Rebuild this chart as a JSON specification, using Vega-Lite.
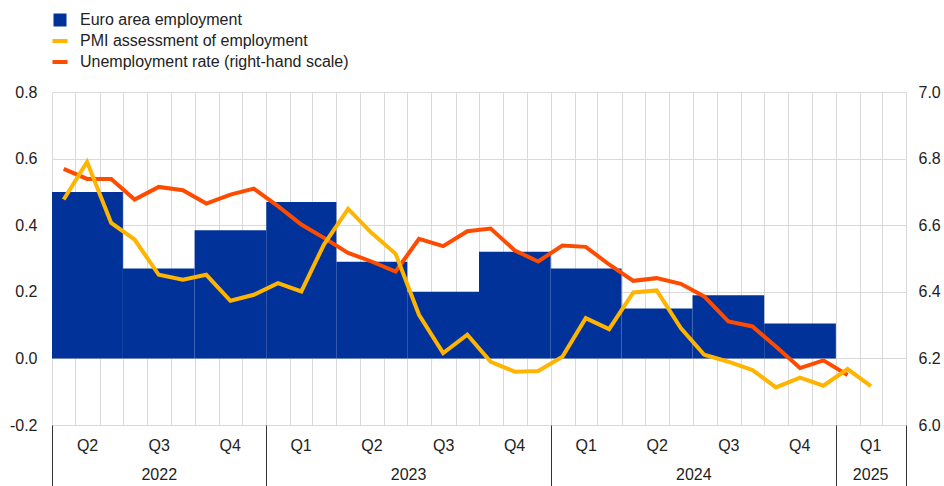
{
  "$schema": "https://vega.github.io/schema/vega-lite/v6.json",
  "width": 854,
  "height": 333,
  "autosize": {"type": "none"},
  "padding": {"left": 52, "top": 92, "right": 38, "bottom": 61},
  "background": "white",
  "config": {
    "view": {"stroke": null},
    "font": "Liberation Sans",
    "axis": {"labelFont": "Liberation Sans", "labelFontSize": 16, "labelColor": "#222222", "titleFontSize": 0},
    "legend": {"labelFont": "Liberation Sans", "labelFontSize": 16, "labelColor": "#222222", "labelLimit": 500}
  },
  "datasets": {
    "bars": [
      {"start": "2022-04-01", "end": "2022-07-01", "value": 0.50},
      {"start": "2022-07-01", "end": "2022-10-01", "value": 0.27},
      {"start": "2022-10-01", "end": "2023-01-01", "value": 0.385},
      {"start": "2023-01-01", "end": "2023-04-01", "value": 0.47},
      {"start": "2023-04-01", "end": "2023-07-01", "value": 0.29},
      {"start": "2023-07-01", "end": "2023-10-01", "value": 0.20},
      {"start": "2023-10-01", "end": "2024-01-01", "value": 0.32},
      {"start": "2024-01-01", "end": "2024-04-01", "value": 0.27},
      {"start": "2024-04-01", "end": "2024-07-01", "value": 0.15},
      {"start": "2024-07-01", "end": "2024-10-01", "value": 0.19},
      {"start": "2024-10-01", "end": "2025-01-01", "value": 0.105}
    ],
    "pmi": [
      {"date": "2022-04-16", "value": 0.477},
      {"date": "2022-05-16", "value": 0.59},
      {"date": "2022-06-16", "value": 0.407},
      {"date": "2022-07-16", "value": 0.357},
      {"date": "2022-08-16", "value": 0.251},
      {"date": "2022-09-16", "value": 0.236},
      {"date": "2022-10-16", "value": 0.251},
      {"date": "2022-11-16", "value": 0.173},
      {"date": "2022-12-16", "value": 0.191},
      {"date": "2023-01-16", "value": 0.226},
      {"date": "2023-02-15", "value": 0.201},
      {"date": "2023-03-16", "value": 0.342},
      {"date": "2023-04-16", "value": 0.449},
      {"date": "2023-05-16", "value": 0.377},
      {"date": "2023-06-16", "value": 0.314},
      {"date": "2023-07-16", "value": 0.131},
      {"date": "2023-08-16", "value": 0.016},
      {"date": "2023-09-16", "value": 0.071},
      {"date": "2023-10-16", "value": -0.010},
      {"date": "2023-11-16", "value": -0.040},
      {"date": "2023-12-16", "value": -0.038},
      {"date": "2024-01-16", "value": 0.005},
      {"date": "2024-02-15", "value": 0.121},
      {"date": "2024-03-16", "value": 0.088},
      {"date": "2024-04-16", "value": 0.198},
      {"date": "2024-05-16", "value": 0.204},
      {"date": "2024-06-16", "value": 0.091},
      {"date": "2024-07-16", "value": 0.011},
      {"date": "2024-08-16", "value": -0.010},
      {"date": "2024-09-16", "value": -0.035},
      {"date": "2024-10-16", "value": -0.087},
      {"date": "2024-11-16", "value": -0.058},
      {"date": "2024-12-16", "value": -0.082},
      {"date": "2025-01-16", "value": -0.032},
      {"date": "2025-02-15", "value": -0.083}
    ],
    "unemp": [
      {"date": "2022-04-16", "value": 6.769},
      {"date": "2022-05-16", "value": 6.739},
      {"date": "2022-06-16", "value": 6.739},
      {"date": "2022-07-16", "value": 6.677},
      {"date": "2022-08-16", "value": 6.715},
      {"date": "2022-09-16", "value": 6.705},
      {"date": "2022-10-16", "value": 6.665},
      {"date": "2022-11-16", "value": 6.692},
      {"date": "2022-12-16", "value": 6.710},
      {"date": "2023-01-16", "value": 6.657},
      {"date": "2023-02-15", "value": 6.602},
      {"date": "2023-03-16", "value": 6.562},
      {"date": "2023-04-16", "value": 6.517},
      {"date": "2023-05-16", "value": 6.491},
      {"date": "2023-06-16", "value": 6.461},
      {"date": "2023-07-16", "value": 6.559},
      {"date": "2023-08-16", "value": 6.537},
      {"date": "2023-09-16", "value": 6.582},
      {"date": "2023-10-16", "value": 6.590},
      {"date": "2023-11-16", "value": 6.524},
      {"date": "2023-12-16", "value": 6.491},
      {"date": "2024-01-16", "value": 6.539},
      {"date": "2024-02-15", "value": 6.535},
      {"date": "2024-03-16", "value": 6.482},
      {"date": "2024-04-16", "value": 6.433},
      {"date": "2024-05-16", "value": 6.441},
      {"date": "2024-06-16", "value": 6.424},
      {"date": "2024-07-16", "value": 6.386},
      {"date": "2024-08-16", "value": 6.311},
      {"date": "2024-09-16", "value": 6.296},
      {"date": "2024-10-16", "value": 6.236},
      {"date": "2024-11-16", "value": 6.171},
      {"date": "2024-12-16", "value": 6.194},
      {"date": "2025-01-16", "value": 6.150}
    ]
  },
  "resolve": {"scale": {"y": "independent"}, "axis": {"x": "independent", "y": "independent"}},
  "layer": [
    {
      "data": {"name": "bars"},
      "mark": {"type": "rect", "color": "#003299"},
      "encoding": {
        "x": {
          "field": "start", "type": "temporal",
          "scale": {"type": "utc", "domain": [{"year": 2022, "month": 4, "date": 1, "utc": true}, {"year": 2025, "month": 4, "date": 1, "utc": true}]},
          "axis": {"orient": "bottom", "title": null, "labels": false, "ticks": false, "domain": false, "grid": true, "gridColor": "#d9d9d9", "gridWidth": 1, "tickCount": {"interval": "month", "step": 1}}
        },
        "x2": {"field": "end"},
        "y": {
          "field": "value", "type": "quantitative",
          "scale": {"domain": [-0.2, 0.8], "nice": false, "zero": false},
          "axis": {"orient": "left", "title": null, "values": [-0.2, 0, 0.2, 0.4, 0.6, 0.8], "labelExpr": "datum.value < 0 ? '-' + format(-datum.value, '.1f') : format(datum.value, '.1f')", "ticks": false, "domain": false, "grid": true, "gridColor": "#d9d9d9", "gridWidth": 1, "labelPadding": 15}
        },
        "y2": {"datum": 0},
        "color": {
          "datum": "Euro area employment", "type": "nominal",
          "scale": {"domain": ["Euro area employment", "PMI assessment of employment", "Unemployment rate (right-hand scale)"], "range": ["#003299", "#FFB400", "#FF4B00"]},
          "legend": {
            "title": null, "orient": "none", "legendX": 0, "legendY": -80, "direction": "vertical",
            "padding": 0, "labelOffset": 12, "rowPadding": 5, "symbolSize": 225, "labelFontSize": 16, "labelLimit": 500,
            "encode": {
              "symbols": {
                "update": {
                  "shape": {"signal": "datum.value === 'Euro area employment' ? 'square' : 'stroke'"},
                  "size": {"signal": "datum.value === 'Euro area employment' ? 169 : 225"},
                  "strokeWidth": {"signal": "datum.value === 'Euro area employment' ? 0 : 4"},
                  "fill": {"signal": "datum.value === 'Euro area employment' ? '#003299' : 'transparent'"},
                  "stroke": {"signal": "datum.value === 'PMI assessment of employment' ? '#FFB400' : (datum.value === 'Euro area employment' ? 'transparent' : '#FF4B00')"},
                  "opacity": {"value": 1}
                }
              }
            }
          }
        }
      }
    },
    {
      "mark": {"type": "rule", "color": "#7f7f7f", "strokeWidth": 1},
      "encoding": {
        "x": {
          "datum": {"year": 2022, "month": 4, "date": 1, "utc": true}, "type": "temporal",
          "axis": {"orient": "bottom", "title": null, "labels": false, "ticks": true, "tickSize": 61, "tickColor": "#333333", "tickWidth": 1, "domain": false, "grid": false,
            "values": [{"year": 2022, "month": 4, "date": 1, "utc": true}, {"year": 2023, "month": 1, "date": 1, "utc": true}, {"year": 2024, "month": 1, "date": 1, "utc": true}, {"year": 2025, "month": 1, "date": 1, "utc": true}, {"year": 2025, "month": 4, "date": 1, "utc": true}]}
        },
        "x2": {"datum": {"year": 2025, "month": 4, "date": 1, "utc": true}},
        "y": {"datum": 0, "type": "quantitative", "scale": {"domain": [-0.2, 0.8], "nice": false, "zero": false}, "axis": null}
      }
    },
    {
      "data": {"name": "unemp"},
      "mark": {"type": "line", "strokeWidth": 4},
      "encoding": {
        "x": {
          "field": "date", "type": "temporal",
          "axis": {"orient": "bottom", "title": null, "ticks": false, "domain": false, "grid": false, "labelFlush": false, "labelOverlap": false, "labelBaseline": "middle", "labelPadding": 49,
            "values": [{"year": 2022, "month": 8, "date": 16, "utc": true}, {"year": 2023, "month": 7, "date": 2, "utc": true}, {"year": 2024, "month": 7, "date": 2, "utc": true}, {"year": 2025, "month": 2, "date": 14, "utc": true}],
            "labelExpr": "'' + utcyear(datum.value)"}
        },
        "y": {
          "field": "value", "type": "quantitative",
          "scale": {"domain": [6.0, 7.0], "nice": false, "zero": false},
          "axis": {"orient": "right", "title": null, "values": [6.0, 6.2, 6.4, 6.6, 6.8, 7.0], "labelExpr": "format(datum.value, '.1f')", "ticks": false, "domain": false, "grid": false, "labelPadding": 12}
        },
        "color": {"datum": "Unemployment rate (right-hand scale)", "type": "nominal"}
      }
    },
    {
      "data": {"name": "pmi"},
      "mark": {"type": "line", "strokeWidth": 4},
      "encoding": {
        "x": {
          "field": "date", "type": "temporal",
          "axis": {"orient": "bottom", "title": null, "ticks": false, "domain": false, "grid": false, "labelFlush": false, "labelOverlap": false, "labelBaseline": "middle", "labelPadding": 20,
            "values": [{"year": 2022, "month": 5, "date": 16, "utc": true}, {"year": 2022, "month": 8, "date": 16, "utc": true}, {"year": 2022, "month": 11, "date": 15, "utc": true}, {"year": 2023, "month": 2, "date": 14, "utc": true}, {"year": 2023, "month": 5, "date": 16, "utc": true}, {"year": 2023, "month": 8, "date": 16, "utc": true}, {"year": 2023, "month": 11, "date": 15, "utc": true}, {"year": 2024, "month": 2, "date": 15, "utc": true}, {"year": 2024, "month": 5, "date": 16, "utc": true}, {"year": 2024, "month": 8, "date": 16, "utc": true}, {"year": 2024, "month": 11, "date": 15, "utc": true}, {"year": 2025, "month": 2, "date": 14, "utc": true}],
            "labelExpr": "'Q' + (floor(utcmonth(datum.value) / 3) + 1)"}
        },
        "y": {
          "field": "value", "type": "quantitative",
          "scale": {"domain": [-0.2, 0.8], "nice": false, "zero": false},
          "axis": null
        },
        "color": {"datum": "PMI assessment of employment", "type": "nominal"}
      }
    }
  ]
}
